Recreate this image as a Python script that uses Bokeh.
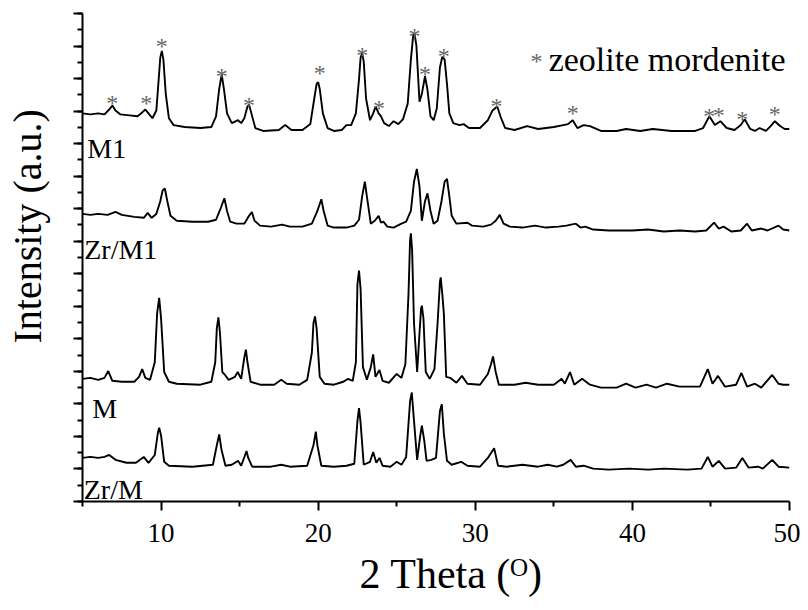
from bokeh.plotting import figure
from bokeh.models import Label, FixedTicker, Range1d, CustomJSTickFormatter, Title
from bokeh.core.properties import value
from bokeh.embed import file_html
from bokeh.resources import INLINE

# ---------------- data ----------------
x_major_ticks = [10, 20, 30, 40, 50]
x_minor_ticks = [5, 15, 25, 35, 45]
y_major_ticks = list(range(0, 1501, 100))
y_minor_ticks = list(range(0, 1501, 50))

sample_names = ["M1", "Zr/M1", "M", "Zr/M"]

# (2 theta, intensity a.u., stacked)
M1 = [(5.0, 1193), (5.5, 1190), (6.0, 1193), (6.4, 1190), (6.7, 1205), (6.9, 1217), (7.1, 1202),
      (7.4, 1190), (8.0, 1187), (8.5, 1184), (8.8, 1196), (9.0, 1205), (9.2, 1193), (9.45, 1178),
      (9.7, 1202), (9.85, 1298), (9.95, 1364), (10.05, 1385), (10.15, 1358), (10.3, 1253),
      (10.5, 1178), (10.8, 1157), (11.5, 1151), (12.5, 1148), (13.2, 1151), (13.5, 1184),
      (13.7, 1268), (13.86, 1313), (14.0, 1268), (14.2, 1193), (14.5, 1163), (14.9, 1172),
      (15.1, 1163), (15.3, 1178), (15.5, 1214), (15.6, 1220), (15.75, 1193), (16.0, 1148),
      (16.5, 1139), (17.5, 1142), (17.9, 1157), (18.3, 1142), (19.0, 1142), (19.5, 1160),
      (19.75, 1238), (19.9, 1283), (20.0, 1289), (20.1, 1268), (20.3, 1193), (20.6, 1148),
      (21.0, 1139), (21.5, 1142), (21.8, 1157), (22.1, 1157), (22.4, 1193), (22.6, 1298),
      (22.7, 1364), (22.8, 1379), (22.9, 1352), (23.05, 1238), (23.3, 1172), (23.5, 1193),
      (23.66, 1214), (23.85, 1193), (24.0, 1184), (24.2, 1163), (24.5, 1154), (24.8, 1169),
      (25.1, 1160), (25.4, 1175), (25.7, 1223), (25.9, 1358), (26.05, 1433), (26.13, 1439),
      (26.25, 1403), (26.45, 1229), (26.6, 1253), (26.8, 1307), (26.95, 1268), (27.15, 1184),
      (27.35, 1172), (27.55, 1208), (27.75, 1334), (27.9, 1367), (28.05, 1358), (28.2, 1283),
      (28.35, 1193), (28.6, 1163), (29.0, 1157), (29.26, 1160), (29.6, 1148), (30.3, 1148),
      (30.8, 1172), (31.1, 1202), (31.4, 1214), (31.6, 1184), (31.9, 1148), (32.5, 1142),
      (33.3, 1154), (34.0, 1145), (35.0, 1151), (35.6, 1157), (35.9, 1160), (36.2, 1172),
      (36.5, 1148), (36.9, 1157), (37.3, 1154), (38.0, 1139), (39.0, 1139), (39.6, 1145),
      (40.5, 1139), (41.3, 1145), (42.5, 1139), (44.0, 1139), (44.5, 1148), (44.9, 1184),
      (45.25, 1157), (45.6, 1169), (46.0, 1148), (46.5, 1142), (46.9, 1157), (47.15, 1175),
      (47.5, 1145), (47.8, 1139), (48.1, 1148), (48.5, 1139), (48.8, 1154), (49.07, 1169),
      (49.4, 1154), (49.7, 1145), (50.0, 1145)]

ZrM1 = [(5.0, 884), (5.5, 881), (6.0, 884), (6.6, 881), (7.1, 890), (7.5, 881), (8.3, 875),
        (8.9, 872), (9.15, 887), (9.4, 872), (9.7, 884), (9.95, 923), (10.1, 956), (10.24, 962),
        (10.4, 923), (10.6, 878), (11.0, 863), (12.0, 860), (13.0, 860), (13.5, 866), (13.8, 902),
        (14.03, 932), (14.2, 893), (14.4, 860), (14.8, 854), (15.3, 854), (15.6, 878), (15.78, 890),
        (15.95, 863), (16.3, 848), (17.0, 845), (17.7, 851), (18.2, 845), (19.0, 845), (19.6, 854),
        (19.95, 893), (20.2, 929), (20.35, 893), (20.6, 848), (21.0, 842), (21.8, 842), (22.3, 848),
        (22.6, 866), (22.8, 938), (22.97, 983), (23.1, 938), (23.35, 854), (23.6, 863), (23.85, 878),
        (24.0, 857), (24.15, 860), (24.4, 845), (24.8, 842), (25.3, 854), (25.6, 860), (25.9, 893),
        (26.1, 983), (26.28, 1022), (26.45, 968), (26.6, 863), (26.8, 923), (26.96, 947),
        (27.15, 893), (27.35, 854), (27.6, 863), (27.85, 923), (28.05, 983), (28.2, 992),
        (28.35, 938), (28.5, 878), (28.8, 854), (29.5, 857), (29.8, 848), (30.5, 845), (31.0, 851),
        (31.3, 863), (31.56, 881), (31.8, 854), (32.2, 845), (33.0, 842), (33.8, 848), (34.5, 842),
        (35.3, 845), (35.8, 848), (36.4, 854), (36.7, 842), (37.0, 845), (37.5, 836), (38.5, 833),
        (40.0, 833), (41.0, 836), (42.0, 830), (43.0, 833), (44.0, 830), (44.7, 833), (45.2, 857),
        (45.5, 839), (45.8, 845), (46.3, 830), (46.9, 833), (47.3, 854), (47.6, 833), (48.2, 839),
        (48.6, 833), (49.3, 848), (49.6, 836), (50.0, 833)]

M = [(5.0, 377), (5.5, 380), (6.0, 374), (6.4, 380), (6.64, 401), (6.9, 371), (7.5, 368), (8.3, 368),
     (8.6, 383), (8.8, 407), (9.0, 380), (9.3, 374), (9.6, 428), (9.75, 578), (9.88, 626),
     (10.0, 563), (10.2, 398), (10.5, 368), (11.0, 362), (12.5, 359), (13.2, 368), (13.45, 428),
     (13.55, 533), (13.65, 566), (13.75, 518), (13.9, 398), (14.07, 389), (14.3, 374), (14.7, 383),
     (14.88, 398), (15.1, 377), (15.3, 443), (15.4, 467), (15.5, 428), (15.7, 368), (16.3, 359),
     (17.2, 359), (17.65, 374), (18.0, 362), (18.8, 359), (19.3, 374), (19.6, 458), (19.7, 548),
     (19.8, 569), (19.9, 533), (20.1, 383), (20.4, 362), (21.0, 359), (21.6, 368), (21.9, 377),
     (22.2, 371), (22.4, 428), (22.5, 668), (22.6, 710), (22.7, 653), (22.85, 413), (23.1, 374),
     (23.35, 413), (23.5, 452), (23.65, 383), (23.9, 404), (24.1, 371), (24.5, 365), (25.0, 392),
     (25.3, 380), (25.55, 422), (25.75, 638), (25.85, 803), (25.9, 824), (25.98, 773),
     (26.1, 548), (26.3, 398), (26.45, 518), (26.55, 593), (26.6, 602), (26.7, 563), (26.85, 398),
     (27.1, 377), (27.4, 407), (27.6, 548), (27.75, 674), (27.8, 689), (27.9, 638), (28.0, 578),
     (28.15, 383), (28.4, 380), (28.8, 365), (29.15, 386), (29.5, 362), (30.3, 359), (30.8, 392),
     (31.0, 422), (31.13, 446), (31.3, 398), (31.5, 359), (32.5, 359), (33.2, 365), (34.0, 359),
     (35.0, 359), (35.5, 377), (35.7, 362), (36.03, 398), (36.3, 359), (36.8, 377), (37.3, 359),
     (38.0, 350), (39.0, 350), (39.6, 362), (40.2, 350), (40.9, 359), (41.5, 350), (42.2, 362),
     (43.0, 353), (44.3, 353), (44.8, 407), (45.1, 362), (45.45, 386), (45.9, 353), (46.6, 359),
     (46.94, 395), (47.3, 353), (47.8, 362), (48.2, 350), (48.9, 389), (49.3, 362), (49.6, 359),
     (50.0, 359)]

ZrM = [(5.0, 134), (5.5, 137), (6.0, 134), (6.4, 137), (6.7, 143), (7.1, 128), (7.8, 119), (8.4, 119),
       (8.9, 137), (9.2, 119), (9.6, 143), (9.8, 212), (9.88, 227), (10.0, 203), (10.2, 122),
       (10.5, 110), (12.0, 107), (13.3, 113), (13.55, 173), (13.7, 206), (13.85, 158), (14.1, 110),
       (14.5, 113), (14.9, 125), (15.1, 110), (15.35, 143), (15.44, 155), (15.55, 134), (15.8, 107),
       (17.0, 107), (17.65, 113), (18.2, 107), (19.3, 110), (19.7, 173), (19.85, 215), (19.95, 173),
       (20.2, 110), (21.0, 107), (21.8, 110), (22.3, 116), (22.5, 248), (22.6, 287), (22.7, 242),
       (22.9, 113), (23.3, 122), (23.5, 152), (23.7, 119), (23.9, 134), (24.1, 110), (24.6, 107),
       (25.0, 122), (25.3, 113), (25.6, 137), (25.85, 308), (25.96, 335), (26.1, 248), (26.3, 128),
       (26.5, 203), (26.6, 233), (26.75, 188), (26.9, 125), (27.2, 128), (27.5, 134), (27.75, 278),
       (27.87, 299), (28.0, 209), (28.2, 125), (28.5, 113), (29.1, 122), (29.5, 110), (30.3, 107),
       (30.8, 134), (31.2, 164), (31.45, 110), (32.0, 107), (33.0, 113), (34.0, 107), (34.6, 113),
       (35.2, 107), (35.6, 113), (36.07, 128), (36.4, 107), (36.9, 110), (37.5, 101), (38.5, 98),
       (39.8, 101), (41.0, 98), (42.0, 101), (43.5, 98), (44.4, 101), (44.8, 137), (45.1, 107),
       (45.5, 125), (45.9, 101), (46.6, 104), (47.0, 134), (47.4, 104), (48.0, 107), (48.3, 101),
       (48.9, 128), (49.3, 107), (50.0, 104)]

# mordenite reflections marked with "*" on the M1 pattern
mordenite_x = [6.9, 9.06, 10.05, 13.87, 15.6, 20.1, 22.8, 23.87, 26.13, 26.8, 28.0,
               31.35, 36.2, 44.9, 45.5, 47.0, 49.06]
mordenite_y = [1235, 1233, 1410, 1318, 1228, 1325, 1383, 1220, 1441, 1323, 1378,
               1225, 1203, 1195, 1198, 1186, 1201]

# ---------------- figure ----------------
SERIF = "Liberation Serif"
STAR_GREY = "#666666"

p = figure(width=800, height=600, output_backend="svg", toolbar_location=None,
           x_range=Range1d(5, 50), y_range=Range1d(0, 1500),
           min_border_left=82, min_border_right=11, min_border_top=13, min_border_bottom=87)
p.outline_line_color = None
p.grid.visible = False
p.background_fill_color = "white"
p.border_fill_color = "white"

for data in (M1, ZrM1, M, ZrM):
    xs = [d[0] for d in data]
    ys = [d[1] for d in data]
    p.line(xs, ys, line_color="black", line_width=1.9)

p.text(x=mordenite_x, y=mordenite_y, text=["*"] * len(mordenite_x),
       text_font=value(SERIF), text_font_size="24px", text_color=STAR_GREY,
       text_align="center", text_baseline="middle", y_offset=3)

# axes
xa = p.xaxis[0]
xa.ticker = FixedTicker(ticks=x_major_ticks, minor_ticks=x_minor_ticks)
ya = p.yaxis[0]
ya.ticker = FixedTicker(ticks=y_major_ticks, minor_ticks=y_minor_ticks)
ya.formatter = CustomJSTickFormatter(code="return ' '")
for ax in (xa, ya):
    ax.axis_line_width = 2
    ax.axis_line_color = "black"
    ax.major_tick_line_width = 2
    ax.minor_tick_line_width = 2
    ax.major_tick_in = 0
    ax.minor_tick_in = 0
    ax.major_tick_out = 9
    ax.minor_tick_out = 5
    ax.major_label_text_font = SERIF
    ax.major_label_text_color = "black"
xa.major_label_text_font_size = "27px"
xa.major_label_standoff = 13
ya.major_label_text_font_size = "8px"
ya.major_label_standoff = 19

# axis titles (side-panel titles, left-aligned with an offset, like the original)
p.add_layout(Title(text="Intensity (a.u.)", text_font=SERIF, text_font_size="40px",
                   text_font_style="normal", text_color="black", align="left",
                   offset=158, standoff=0), "left")
p.add_layout(Title(text="2 Theta (\u1d3c)", text_font=SERIF, text_font_size="42px",
                   text_font_style="normal", text_color="black", align="left",
                   offset=277, standoff=8), "below")

# curve names
name_pos = [(5.31, 1085), (5.11, 774), (5.62, 285), (5.08, 36)]
for name, (lx, ly) in zip(sample_names, name_pos):
    p.add_layout(Label(x=lx, y=ly, text=name, text_font=SERIF, text_font_size="28px",
                       text_color="black", text_align="left", text_baseline="alphabetic"))

# legend: grey star + caption
p.text(x=[33.9], y=[1363], text=["*"], text_font=value(SERIF), text_font_size="24px",
       text_color=STAR_GREY, text_align="center", text_baseline="middle", y_offset=3)
p.text(x=[34.67], y=[1358], text=["zeolite mordenite"], text_font=value(SERIF),
       text_font_size="34px", text_color="black", text_align="left",
       text_baseline="alphabetic")

open("out.html", "w").write(file_html(p, INLINE))
